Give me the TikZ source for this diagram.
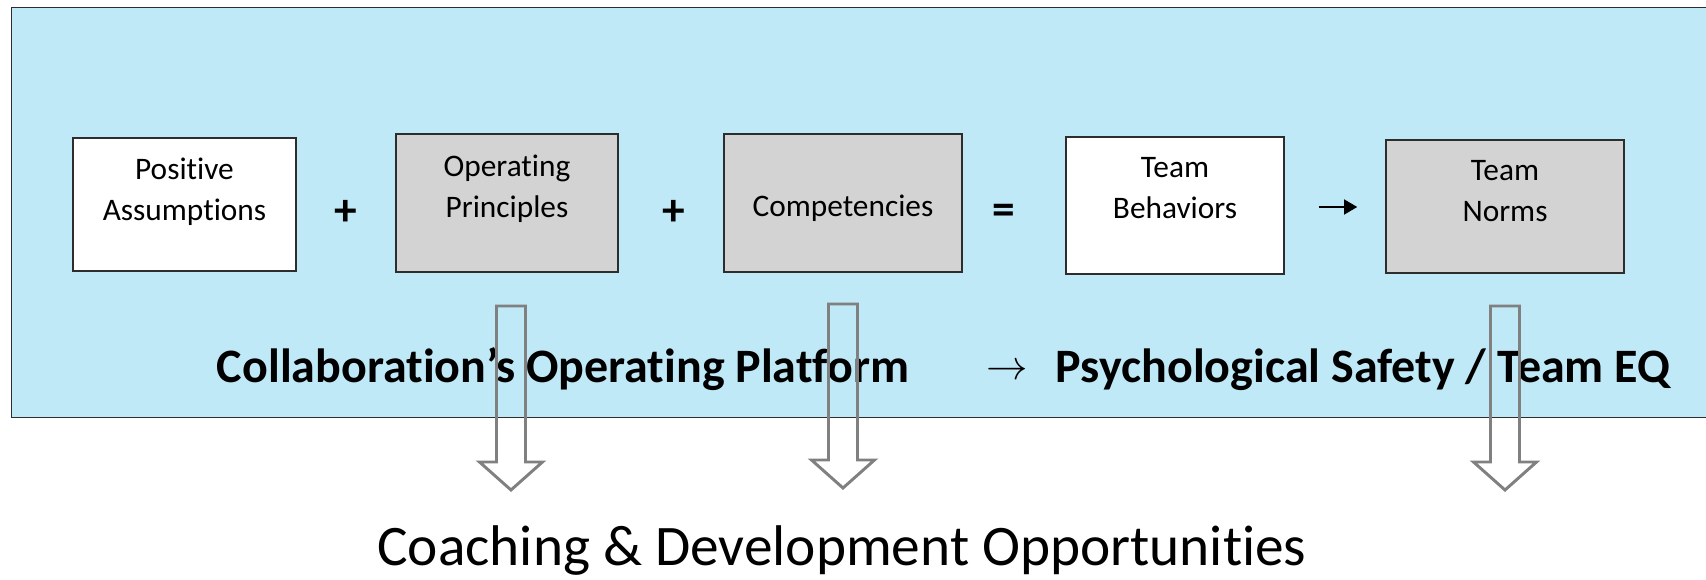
\documentclass[tikz,border=0pt]{standalone}
\usepackage{fontspec}
\setmainfont{Carlito}[RawFeature={-liga}]
\usetikzlibrary{arrows.meta}
\definecolor{panelblue}{RGB}{192,233,248}
\definecolor{boxgray}{RGB}{211,211,211}
\definecolor{arrowgray}{RGB}{128,128,128}
\definecolor{edgegray}{RGB}{45,45,45}
\tikzset{
  stepbox/.style={draw=edgegray, line width=1pt, inner sep=0pt},
  whitebox/.style={stepbox, fill=white},
  graybox/.style={stepbox, fill=boxgray},
  boxtext/.style={font=\fontsize{23.5}{30.75}\selectfont, align=center, inner sep=0pt},
  opsign/.style={font=\fontsize{34}{40}\selectfont\bfseries, inner sep=0pt},
  headline/.style={font=\fontsize{36}{42}\selectfont\bfseries, inner sep=0pt, anchor=base},
  bigline/.style={font=\fontsize{43}{50}\selectfont, inner sep=0pt, anchor=base},
  hollowarrow/.pic={\draw[arrowgray, line width=2.2pt, line join=miter]
     (-14.5,0) -- (-14.5,156) -- (-31.5,156) -- (0,184) -- (31.5,156) -- (14.5,156) -- (14.5,0) -- cycle;}
}
\begin{document}
\begin{tikzpicture}[x=0.75pt,y=-0.75pt]
\useasboundingbox (0,0) rectangle (1706,580);
\clip (0,0) rectangle (1706,580);
% panel
\node[draw=edgegray, fill=panelblue, line width=1pt, inner sep=0pt, anchor=north west,
      minimum width=1760*0.75pt, minimum height=410*0.75pt] (panel) at (11,7) {};
% boxes
\node[whitebox, minimum width=223*0.75pt, minimum height=133*0.75pt] (pa) at (184.5,204.5) {};
\node[graybox,  minimum width=222*0.75pt, minimum height=138*0.75pt] (op) at (507,203) {};
\node[graybox,  minimum width=238*0.75pt, minimum height=138*0.75pt] (co) at (843,203) {};
\node[whitebox, minimum width=218*0.75pt, minimum height=137*0.75pt] (tb) at (1175,205.5) {};
\node[graybox,  minimum width=238*0.75pt, minimum height=133*0.75pt] (tn) at (1505,206.5) {};
% box texts
\node[boxtext] (patext) at (184.5,192) {Positive\\Assumptions};
\node[boxtext] (optext) at (507,189) {Operating\\Principles};
\node[boxtext] (cotext) at (843,208.5) {Competencies};
\node[boxtext] (tbtext) at (1175,188.5) {Team\\Behaviors};
\node[boxtext] (tntext) at (1505,191) {Team\\Norms};
% operators
\node[opsign] (plus1) at (346,213) {+};
\node[opsign] (plus2) at (674,213) {+};
\node[opsign] (equals) at (1004,214) {=};
\draw[line width=2.2pt, -{Triangle[length=10pt, width=11pt]}, shorten <=34*0.75pt, shorten >=28*0.75pt]
  (tb.east |- 0,207) coordinate (arrA) -- (tn.west |- 0,207) coordinate (arrB);
% headline
\node[headline] (platform) at (563,383) {Collaboration’s Operating Platform};
\node[font=\fontsize{24}{28}\selectfont, inner sep=0pt] (pointer) at (1007,372) {\scalebox{1.25}{$\rightarrow$}};
\node[headline] (safety) at (1363,383) {Psychological Safety / Team EQ};
% bottom line
\node[bigline] (coaching) at (842,565) {Coaching \& Development Opportunities};
% hollow arrows
\pic at (511,306) {hollowarrow};
\pic at (843,304) {hollowarrow};
\pic at (1505,306) {hollowarrow};
\end{tikzpicture}
\end{document}
